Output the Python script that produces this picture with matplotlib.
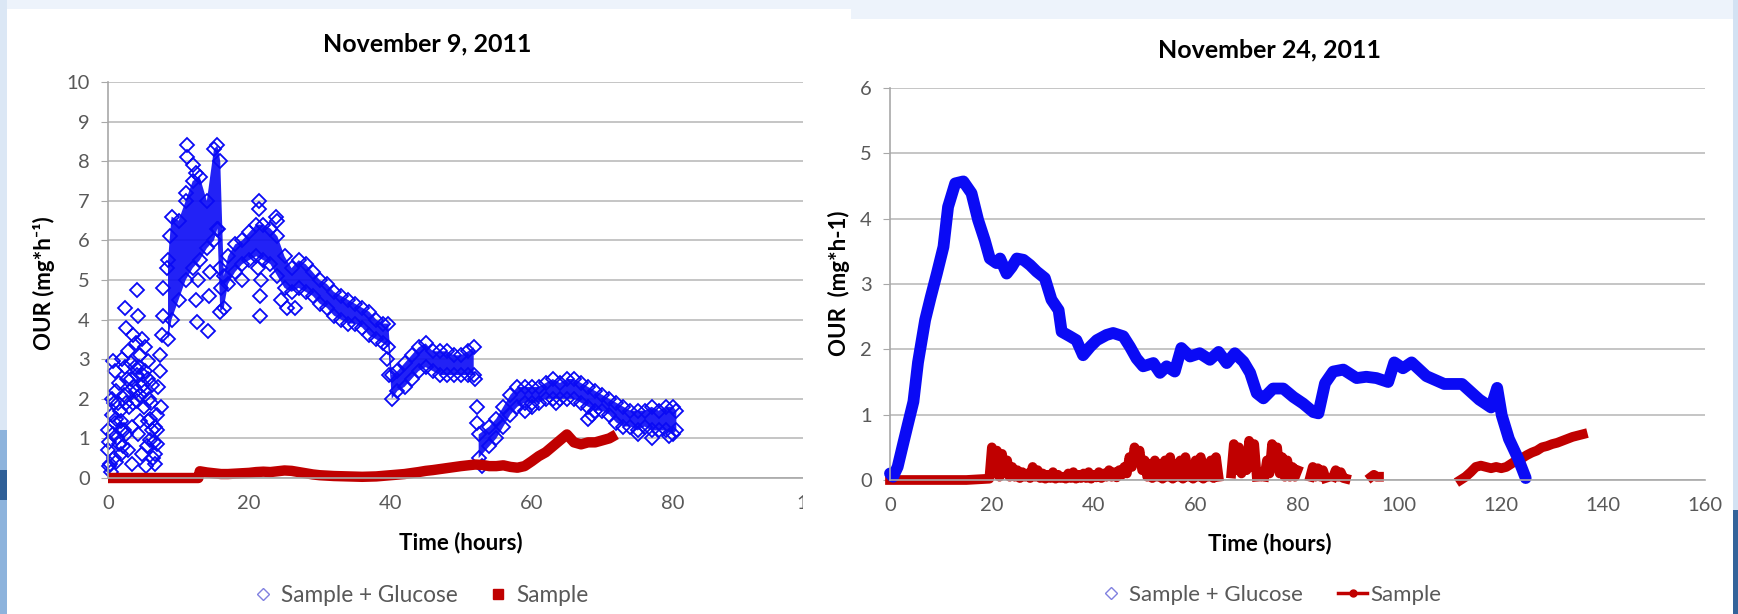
import numpy as np
import matplotlib.pyplot as plt
from matplotlib.patches import Rectangle
from matplotlib.lines import Line2D

nan = np.nan

# ---------- November 9, 2011 ----------
# loose early readings and outliers of "Sample + Glucose"
nov9_pts_x = [0.0, 0.05, 0.1, 0.3, 0.5, 0.75, 0.75, 1.0, 1.2, 1.2, 1.5, 1.7, 1.9, 1.9, 2.2, 2.4, 2.4, 2.6,
              2.6, 2.9, 2.9, 3.1, 3.35, 3.6, 3.8, 4.05, 4.05, 4.3, 4.5, 4.5, 4.75, 5.0, 5.2, 5.4, 5.6, 5.7,
              5.95, 6.2, 6.4, 6.65, 6.9, 6.9, 7.1, 7.4, 7.6, 7.8, 7.8, 8.3, 8.8,
              0.5, 0.9, 1.3, 1.6, 2.0, 2.3, 2.7, 3.0, 3.2, 3.4, 3.7, 3.9, 4.1, 4.3, 4.6, 4.8, 5.1, 5.3,
              5.5, 5.8, 6.0, 6.3, 6.5, 6.7, 0.2, 0.4, 1.1, 2.1,
              1.4, 1.8, 2.5, 3.3, 3.5, 4.0, 4.4, 4.9, 5.2, 5.6, 6.1, 6.6, 7.0, 7.3, 7.5, 0.8, 1.0,
              11.2, 11.2, 11.0, 12.0, 12.5, 12.6, 12.4, 12.7, 14.2, 14.3, 14.5, 15.6, 15.9, 16.0,
              21.4, 21.4, 21.5, 21.6, 21.7, 21.2, 19.0, 24.5, 25.3, 26.5, 23.8, 24.0, 39.5, 39.8,
              52.0, 52.2, 52.3, 53.0, 59.0, 60.0, 63.5, 68.0, 68.5, 75.0, 77.0, 79.5]
nov9_pts_y = [1.2, 0.7, 0.3, 0.35, 2.0, 2.95, 1.1, 2.7, 2.2, 1.5, 0.85, 1.7, 1.45, 0.6, 2.1, 4.3, 2.8, 3.8,
              1.1, 3.2, 0.7, 2.2, 0.35, 3.6, 2.8, 4.75, 1.95, 4.1, 3.1, 1.45, 0.6, 2.35, 3.3, 0.3, 1.45, 2.95,
              0.95, 2.35, 0.5, 0.35, 0.85, 1.6, 2.3, 3.1, 3.6, 4.1, 4.8, 5.3, 6.1,
              1.6, 1.9, 1.0, 2.4, 3.0, 1.2, 2.5, 1.8, 2.9, 1.3, 2.3, 3.4, 2.6, 1.1, 2.1, 3.5, 1.8, 2.7,
              0.8, 2.0, 1.5, 1.2, 0.9, 0.6, 0.9, 0.15, 0.4, 0.8,
              1.9, 1.2, 1.9, 2.5, 1.9, 2.2, 2.8, 2.6, 2.2, 2.5, 1.9, 1.3, 1.2, 2.7, 1.8, 0.5, 1.4,
              8.4, 8.1, 7.2, 7.9, 7.7, 3.95, 4.5, 5.0, 3.7, 4.6, 5.2, 6.3, 5.3, 4.8,
              7.0, 6.8, 4.1, 4.6, 5.0, 5.3, 5.0, 4.5, 4.3, 4.3, 6.6, 6.5, 3.0, 2.6,
              2.5, 1.8, 1.4, 0.3, 1.7, 1.8, 1.9, 1.5, 1.6, 1.1, 1.0, 1.05]

# dense band of "Sample + Glucose" readings: time, lower and upper edge
nov9_band_t = [8.5, 9, 10, 11, 12, 13, 14, 15, 15.5, 15.9, 16.4, 17, 18, 19, 20, 21, 22, 23, 24, 25, 26, 27,
               28, 29, 30, 31, 32, 33, 34, 35, 36, 37, 38, 39, 39.7, 40.2, 41, 42, 43, 44, 45, 46, 47, 48,
               49, 50, 51, 51.8, nan, 52.5, 54, 55, 56, 57, 58, 59, 60, 61, 62, 63, 64, 65, 66, 67, 68,
               69, 70, 71, 72, 73, 74, 75, 76, 77, 78, 79, 80, 80.5]
nov9_band_lo = [3.5, 4.0, 4.5, 5.0, 5.3, 5.5, 5.8, 6.0, 6.3, 4.2, 4.3, 4.9, 5.2, 5.4, 5.5, 5.6, 5.5, 5.4, 5.1,
                4.8, 4.7, 4.8, 4.7, 4.6, 4.4, 4.3, 4.1, 4.0, 3.9, 3.9, 3.8, 3.6, 3.5, 3.4, 3.3, 2.0, 2.2,
                2.3, 2.5, 2.7, 2.8, 2.7, 2.6, 2.6, 2.6, 2.6, 2.6, 2.6, nan, 0.5, 0.8, 1.0, 1.3, 1.6, 1.8,
                1.9, 1.9, 1.9, 2.0, 2.0, 2.0, 2.0, 2.0, 1.9, 1.8, 1.7, 1.7, 1.6, 1.4, 1.3, 1.3, 1.2, 1.3,
                1.2, 1.2, 1.2, 1.1, 1.2]
nov9_band_hi = [5.5, 6.6, 6.5, 7.0, 7.5, 7.6, 7.0, 8.3, 8.4, 8.0, 5.1, 5.6, 5.9, 6.0, 6.2, 6.4, 6.4, 6.3, 6.1,
                5.6, 5.3, 5.5, 5.4, 5.2, 5.0, 4.9, 4.7, 4.6, 4.5, 4.4, 4.3, 4.2, 4.0, 3.9, 3.9, 2.6, 2.7,
                2.9, 3.1, 3.3, 3.4, 3.2, 3.2, 3.2, 3.1, 3.1, 3.2, 3.3, nan, 1.1, 1.3, 1.5, 1.8, 2.1, 2.3,
                2.3, 2.3, 2.3, 2.4, 2.5, 2.4, 2.5, 2.5, 2.4, 2.3, 2.2, 2.1, 2.0, 1.9, 1.8, 1.7, 1.7, 1.7,
                1.8, 1.7, 1.8, 1.8, 1.7]

# "Sample"
nov9_smp_t = [0, 2, 4, 6, 8, 10, 12, 12.8, 13, 14, 15, 16, 17, 18, 19, 20, 21, 22, 23, 24, 25, 26, 27, 28,
              29, 30, 32, 34, 36, 38, 40, 42, 44, 45, 46, 48, 50, 52, 53, 54, 55, 56, 57, 58, 59, 60, 61,
              62, 63, 64, 65, 66, 67, 68, 69, 70, 71, 72]
nov9_smp_y = [0, 0, 0, 0, 0, 0, 0, 0, 0.17, 0.14, 0.12, 0.1, 0.1, 0.11, 0.12, 0.13, 0.15, 0.16, 0.15, 0.17,
              0.19, 0.18, 0.15, 0.12, 0.09, 0.07, 0.05, 0.04, 0.03, 0.04, 0.07, 0.1, 0.15, 0.18, 0.2, 0.25,
              0.3, 0.34, 0.33, 0.3, 0.3, 0.32, 0.28, 0.26, 0.3, 0.42, 0.55, 0.65, 0.8, 0.95, 1.1, 0.9, 0.85,
              0.9, 0.9, 0.95, 1.0, 1.1]

# ---------- November 24, 2011 ----------
nov24_glu_t = [0, 0.6, 1.5, 2.6, 3.5, 4.6, 5.5, 6.9, 8, 9.2, 10.5, 11.4, 12.8, 14.4, 16.0, 17.3, 18.6, 19.6,
               20.9, 21.6, 22.9, 23.9, 24.9, 26.2, 27.5, 28.8, 30.4, 31.7, 33.1, 33.7, 35.3, 36.6, 37.9,
               39.3, 40.6, 42.5, 43.8, 45.8, 47.1, 48.4, 49.7, 51.7, 53.0, 54.3, 55.9, 57.2, 58.9, 60.8,
               62.8, 64.5, 66.1, 67.7, 69.4, 70.7, 72.0, 73.3, 75.2, 77.2, 79.2, 81.1, 83.1, 84.1, 85.4,
               87.0, 89.0, 91.6, 93.5, 95.5, 97.8, 99.0, 100.7, 102.4, 105.3, 108.8, 112.3, 115.7, 118.0,
               119.2, 120.1, 121.5, 123.3, 124.8]
nov24_glu_y = [0.1, 0.05, 0.2, 0.56, 0.85, 1.2, 1.8, 2.45, 2.8, 3.16, 3.57, 4.18, 4.54, 4.57, 4.39, 3.98,
               3.67, 3.39, 3.32, 3.39, 3.16, 3.26, 3.39, 3.37, 3.29, 3.19, 3.09, 2.76, 2.6, 2.27, 2.2, 2.14,
               1.91, 2.04, 2.14, 2.22, 2.25, 2.2, 2.04, 1.86, 1.74, 1.79, 1.64, 1.74, 1.66, 2.02, 1.89,
               1.94, 1.84, 1.96, 1.79, 1.94, 1.81, 1.64, 1.33, 1.25, 1.40, 1.40, 1.27, 1.17, 1.04, 1.02,
               1.48, 1.66, 1.69, 1.56, 1.58, 1.56, 1.5, 1.8, 1.71, 1.8, 1.59, 1.47, 1.47, 1.23, 1.11, 1.41,
               0.99, 0.63, 0.33, 0.03]

nov24_smp_t = [0, 5, 10, 15, 19.5,
               20, 20.5, 21, 21.5, 22, 22.5, 23, 23.5, 24, 24.5, 25, 25.5, 26, 26.5, 27, 27.5, 28, 28.5,
               29, 29.5, 30, 30.5, 31, 31.5, 32, 32.5, 33, 33.5, 34, 34.5, 35, 35.5, 36, 36.5, 37, 37.5,
               38, 38.5, 39, 39.5, 40, 40.5, 41, 41.5, 42, 42.5, 43, 43.5, 44, 44.5, 45, 45.5, 46, 46.5,
               47, 47.5, 48, 48.5, 49, 49.5, 50, 50.5, 51, 51.5, 52, 52.5, 53, 53.5, 54, 54.5, 55, 55.5,
               56, 56.5, 57, 57.5, 58, 58.5, 59, 59.5, 60, 60.5, 61, 61.5, 62, 62.5, 63, 63.5, 64, 64.5,
               nan, 67, 67.5, 68, 68.5, 69, 69.5, 70, 70.5, 71, 71.5, 72,
               nan, 73.5, 74, 74.5, 75, 75.5, 76, 76.5, 77, 77.5, 78, 78.5, 79, 79.5, 80,
               nan, 82.5, 83, 83.5, 84, 84.5, 85, 85.5,
               nan, 87, 87.5, 88, 88.5, 89, 89.5,
               nan, 94.5, 95, 95.5, 96,
               nan, 112, 113, 114, 115, 116, 117, 118, 119, 120, 121, 122, 123, 124, 125, 126, 127, 128,
               129, 130, 131, 132, 133, 134, 135, 136]
nov24_smp_y = [0, 0, 0, 0, 0.02,
               0.5, 0.1, 0.45, 0.05, 0.4, 0.1, 0.3, 0.05, 0.2, 0.05, 0.15, 0.03, 0.12, 0.05, 0.1, 0.03,
               0.2, 0.05, 0.15, 0.03, 0.1, 0.02, 0.08, 0.03, 0.12, 0.02, 0.08, 0.03, 0.05, 0.02, 0.1, 0.03,
               0.12, 0.02, 0.08, 0.03, 0.1, 0.03, 0.12, 0.02, 0.08, 0.04, 0.12, 0.03, 0.1, 0.05, 0.15,
               0.05, 0.12, 0.04, 0.15, 0.08, 0.2, 0.1, 0.35, 0.2, 0.5, 0.3, 0.45, 0.15, 0.3, 0.05, 0.25,
               0.03, 0.3, 0.05, 0.25, 0.02, 0.3, 0.05, 0.35, 0.02, 0.25, 0.05, 0.3, 0.02, 0.35, 0.05, 0.2,
               0.02, 0.3, 0.05, 0.35, 0.02, 0.25, 0.05, 0.3, 0.03, 0.35, 0.05,
               nan, 0.1, 0.55, 0.15, 0.5, 0.1, 0.4, 0.15, 0.6, 0.2, 0.55, 0.05,
               nan, 0.05, 0.3, 0.1, 0.55, 0.2, 0.5, 0.1, 0.35, 0.05, 0.3, 0.05, 0.2, 0.05, 0.15,
               nan, 0.05, 0.2, 0.05, 0.18, 0.05, 0.15, 0.03,
               nan, 0.05, 0.15, 0.05, 0.12, 0.03, 0.02,
               nan, 0.05, 0.08, 0.05, 0.05,
               nan, 0.0, 0.05, 0.12, 0.2, 0.22, 0.2, 0.18, 0.2, 0.18, 0.2, 0.25, 0.3, 0.33, 0.38, 0.42,
               0.45, 0.5, 0.52, 0.55, 0.57, 0.6, 0.63, 0.66, 0.68, 0.7]

BLUE = '#0a0af5'
RED = '#c00000'
GREY = '#595959'

plt.rcParams['font.family'] = ['Lato', 'DejaVu Sans']

W, H = 1738, 614
fig = plt.figure(figsize=(W / 100, H / 100), dpi=100, facecolor='#edf3fb')


def fx(px):
    return px / W


def fy(py):
    return 1 - py / H


def box(x0, y0, x1, y1, color, z):
    fig.patches.append(Rectangle((fx(x0), fy(y1)), fx(x1) - fx(x0), fy(y0) - fy(y1),
                                 transform=fig.transFigure, facecolor=color, edgecolor='none', zorder=z))


# slide decoration around the two pasted charts
box(0, 0, 7, 614, '#dbe7f5', 0)
box(0, 430, 7, 614, '#8db3dc', 0)
box(0, 470, 7, 500, '#2f5f97', 0)
box(1733, 0, 1738, 614, '#d3e2f3', 0)
box(1733, 510, 1738, 614, '#33639a', 0)
box(7, 9, 851, 614, 'white', 0.5)


def style(ax, xmax, ymax):
    ax.set_xlim(0, xmax)
    ax.set_ylim(0, ymax)
    ax.set_xticks(range(0, xmax + 1, 20))
    ax.set_yticks(range(0, ymax + 1))
    ax.yaxis.grid(True, color='#c0c0c0', lw=1.3)
    ax.set_axisbelow(True)
    ax.patch.set_alpha(0)
    for s in ['top', 'right']:
        ax.spines[s].set_visible(False)
    for s in ['left', 'bottom']:
        ax.spines[s].set_color('#a8a8a8')
        ax.spines[s].set_linewidth(1.2)
    ax.tick_params(axis='y', colors='#a8a8a8', labelcolor=GREY, labelsize=14.5, length=5, pad=8)
    ax.tick_params(axis='x', length=0, labelcolor=GREY, labelsize=14.5, pad=12)


# ---- left chart ----
ax1 = fig.add_axes([fx(108), fy(478), fx(814) - fx(108), fy(82) - fy(478)], zorder=1)
style(ax1, 100, 10)
ax1.fill_between(nov9_band_t, nov9_band_lo, nov9_band_hi, color=BLUE, alpha=0.9, lw=0)
for edge in (nov9_band_lo, nov9_band_hi):
    ax1.plot(nov9_band_t, edge, ls='none', marker='D', ms=7, mfc='none', mec=BLUE, mew=1.3)
ax1.plot(nov9_pts_x, nov9_pts_y, ls='none', marker='D', ms=7, mfc='none', mec=BLUE, mew=1.3, clip_on=False)
ax1.plot(nov9_smp_t, nov9_smp_y, color=RED, lw=7.5, solid_capstyle='butt', clip_on=False)

fig.text(fx(427), fy(44), 'November 9, 2011', ha='center', va='center', fontsize=18, fontweight='bold')
fig.text(fx(461), fy(543), 'Time (hours)', ha='center', va='center', fontsize=16, fontweight='bold')
fig.text(fx(44), fy(283), 'OUR (mg*h⁻¹)', ha='center', va='center', rotation=90, fontsize=16,
         fontweight='bold')
h1 = [Line2D([], [], ls='none', marker='D', ms=6, mfc='none', mec='#8080e0', mew=1, label='Sample + Glucose'),
      Line2D([], [], ls='none', marker='s', ms=7, color=RED, label='Sample')]
fig.legend(handles=h1, loc='center', bbox_to_anchor=(fx(421), fy(595)), ncol=2, frameon=False,
           fontsize=16.3, labelcolor=GREY, handlelength=0.8, handletextpad=0.4, columnspacing=1.4)

# ---- right chart (pasted over the left one) ----
box(803, 19, 1733, 614, 'white', 2)
ax2 = fig.add_axes([fx(890), fy(480), fx(1705) - fx(890), fy(88) - fy(480)], zorder=3)
style(ax2, 160, 6)
ax2.plot(nov24_smp_t, nov24_smp_y, color=RED, lw=7, clip_on=False)
ax2.plot(nov24_glu_t, nov24_glu_y, color=BLUE, lw=8.5, solid_joinstyle='round', solid_capstyle='round',
         clip_on=False)

fig.text(fx(1269), fy(50), 'November 24, 2011', ha='center', va='center', fontsize=18, fontweight='bold',
         zorder=4)
fig.text(fx(1270), fy(544), 'Time (hours)', ha='center', va='center', fontsize=16, fontweight='bold', zorder=4)
fig.text(fx(839), fy(283), 'OUR  (mg*h-1)', ha='center', va='center', rotation=90, fontsize=16,
         fontweight='bold', zorder=4)
h2 = [Line2D([], [], ls='none', marker='D', ms=6, mfc='none', mec='#8080e0', mew=1, label='Sample + Glucose'),
      Line2D([], [], color=RED, lw=2.5, marker='o', ms=5, label='Sample')]
fig.legend(handles=h2, loc='center', bbox_to_anchor=(fx(1269), fy(595)), ncol=2, frameon=False,
           fontsize=16, labelcolor=GREY, handlelength=1.3, handletextpad=0.15, columnspacing=1.6)

fig.savefig('out.png', dpi=100, facecolor=fig.get_facecolor())
